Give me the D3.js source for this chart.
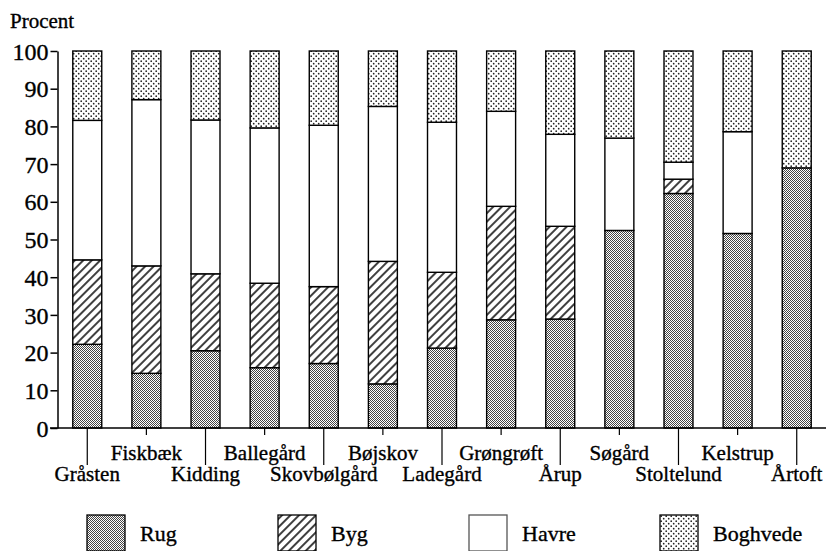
<!DOCTYPE html>
<html>
<head>
<meta charset="utf-8">
<script src="https://cdn.jsdelivr.net/npm/d3@7"></script>
<style>
    body { margin: 0; background: #fff; }
    svg text { font-family: "Liberation Serif", "Times New Roman", serif; fill: #000; stroke: #000; stroke-width: 0.35px; }
</style>
</head>
<body>
<script>
(function() {
    'use strict';

    // data (percent of each crop per farm)
    let farms = ["Gråsten", "Fiskbæk", "Kidding", "Ballegård", "Skovbølgård", "Bøjskov", "Ladegård",
                 "Grøngrøft", "Årup", "Søgård", "Stoltelund", "Kelstrup", "Årtoft"];
    let crops = ["Rug", "Byg", "Havre", "Boghvede"];
    let rug      = [22.2, 14.5, 20.5, 16.0, 17.1, 11.7, 21.2, 28.7, 28.9, 52.4, 62.2, 51.6, 69.0];
    let byg      = [22.4, 28.5, 20.4, 22.4, 20.4, 32.5, 20.1, 30.1, 24.6, 0, 3.8, 0, 0];
    let havre    = [37.0, 44.1, 40.8, 41.2, 42.8, 41.1, 39.8, 25.2, 24.4, 24.5, 4.5, 27.0, 0];
    let boghvede = [18.4, 12.9, 18.3, 20.4, 19.7, 14.7, 18.9, 16.0, 22.1, 23.1, 29.5, 21.4, 31.0];
    let yTicks = [0, 10, 20, 30, 40, 50, 60, 70, 80, 90, 100];

    let serif = "'Liberation Serif', 'Times New Roman', serif";
    let width = 826, height = 551;
    let svg = d3.select("body").append("svg")
        .attr("width", width)
        .attr("height", height)
        .attr("font-family", serif);

    // fill patterns
    let defs = svg.append("defs");
    let pRug = defs.append("pattern").attr("id", "p-rug")
        .attr("patternUnits", "userSpaceOnUse").attr("width", 2).attr("height", 2);
    pRug.append("rect").attr("width", 2).attr("height", 2).attr("fill", "#fff");
    pRug.append("rect").attr("x", 0).attr("y", 0).attr("width", 1).attr("height", 1).attr("fill", "#444");
    pRug.append("rect").attr("x", 1).attr("y", 1).attr("width", 1).attr("height", 1).attr("fill", "#444");

    let pByg = defs.append("pattern").attr("id", "p-byg")
        .attr("patternUnits", "userSpaceOnUse").attr("width", 6).attr("height", 6)
        .attr("patternTransform", "rotate(45)");
    pByg.append("rect").attr("width", 6).attr("height", 6).attr("fill", "#fff");
    pByg.append("line").attr("x1", 3).attr("y1", 0).attr("x2", 3).attr("y2", 6)
        .attr("stroke", "#000").attr("stroke-width", 1.5);

    let pBog = defs.append("pattern").attr("id", "p-bog")
        .attr("patternUnits", "userSpaceOnUse").attr("width", 5).attr("height", 5);
    pBog.append("rect").attr("width", 5).attr("height", 5).attr("fill", "#fff");
    pBog.append("circle").attr("cx", 1.2).attr("cy", 1.2).attr("r", 0.85).attr("fill", "#222");
    pBog.append("circle").attr("cx", 3.7).attr("cy", 3.7).attr("r", 0.85).attr("fill", "#222");

    let fills = {
        "Rug": "url(#p-rug)",
        "Byg": "url(#p-byg)",
        "Havre": "#fff",
        "Boghvede": "url(#p-bog)"
    };

    let table = farms.map(function(f, i) {
        return { farm: f, Rug: rug[i], Byg: byg[i], Havre: havre[i], Boghvede: boghvede[i] };
    });
    let series = d3.stack().keys(crops)(table);

    let x = d3.scaleBand()
        .domain(farms)
        .range([58, 826])
        .paddingInner(0.51)
        .paddingOuter(0.25);

    let y = d3.scaleLinear()
        .domain([0, 100])
        .range([428, 51]);

    // bars
    svg.append("g").selectAll("g")
        .data(series)
        .enter()
        .append("g")
        .attr("fill", function(d) { return fills[d.key]; })
        .selectAll("rect")
        .data(function(d) { return d.filter(function(s) { return s[1] - s[0] > 0; }); })
        .enter()
        .append("rect")
        .attr("x", function(d) { return x(d.data.farm); })
        .attr("y", function(d) { return y(d[1]); })
        .attr("width", x.bandwidth())
        .attr("height", function(d) { return y(d[0]) - y(d[1]); })
        .attr("stroke", "#000")
        .attr("stroke-width", 1.4);

    // y axis
    let yAxis = svg.append("g")
        .attr("transform", "translate(57.5,0)")
        .call(d3.axisLeft(y).tickValues(yTicks).tickSize(7).tickSizeOuter(0).tickPadding(2));
    yAxis.attr("font-family", serif);
    yAxis.select(".domain").attr("stroke", "#000").attr("stroke-width", 1.5);
    yAxis.selectAll(".tick line").attr("stroke", "#000").attr("stroke-width", 1.5);
    yAxis.selectAll(".tick text")
        .style("font-size", "24px")
        .attr("fill", "#000")
        .attr("dy", "0.34em");

    svg.append("text")
        .attr("x", 10)
        .attr("y", 28)
        .style("font-size", "21px")
        .text("Procent");

    // x axis: baseline, staggered ticks and labels
    svg.append("line")
        .attr("x1", 50).attr("x2", 826)
        .attr("y1", y(0)).attr("y2", y(0))
        .attr("stroke", "#000").attr("stroke-width", 1.5);

    let xTick = svg.append("g").selectAll("g")
        .data(farms)
        .enter()
        .append("g")
        .attr("transform", function(d) {
            return "translate(" + (x(d) + x.bandwidth() / 2) + "," + y(0) + ")";
        });
    xTick.append("line")
        .attr("y2", function(d, i) { return i % 2 === 0 ? 37 : 7; })
        .attr("stroke", "#000")
        .attr("stroke-width", 1.2);
    xTick.append("text")
        .attr("text-anchor", "middle")
        .attr("y", function(d, i) { return i % 2 === 0 ? 53 : 32; })
        .style("font-size", "21px")
        .text(function(d) { return d; });

    // legend
    let legend = svg.append("g").selectAll("g")
        .data(crops)
        .enter()
        .append("g")
        .attr("transform", function(d, i) { return "translate(" + (87 + i * 191) + ",515)"; });
    legend.append("rect")
        .attr("width", 38)
        .attr("height", 36)
        .attr("fill", function(d) { return fills[d]; })
        .attr("stroke", function(d) { return d === "Havre" ? "#555" : "#000"; })
        .attr("stroke-width", 1.3);
    legend.append("text")
        .attr("x", 53)
        .attr("y", 26)
        .style("font-size", "22px")
        .text(function(d) { return d; });
})();
</script>
</body>
</html>
